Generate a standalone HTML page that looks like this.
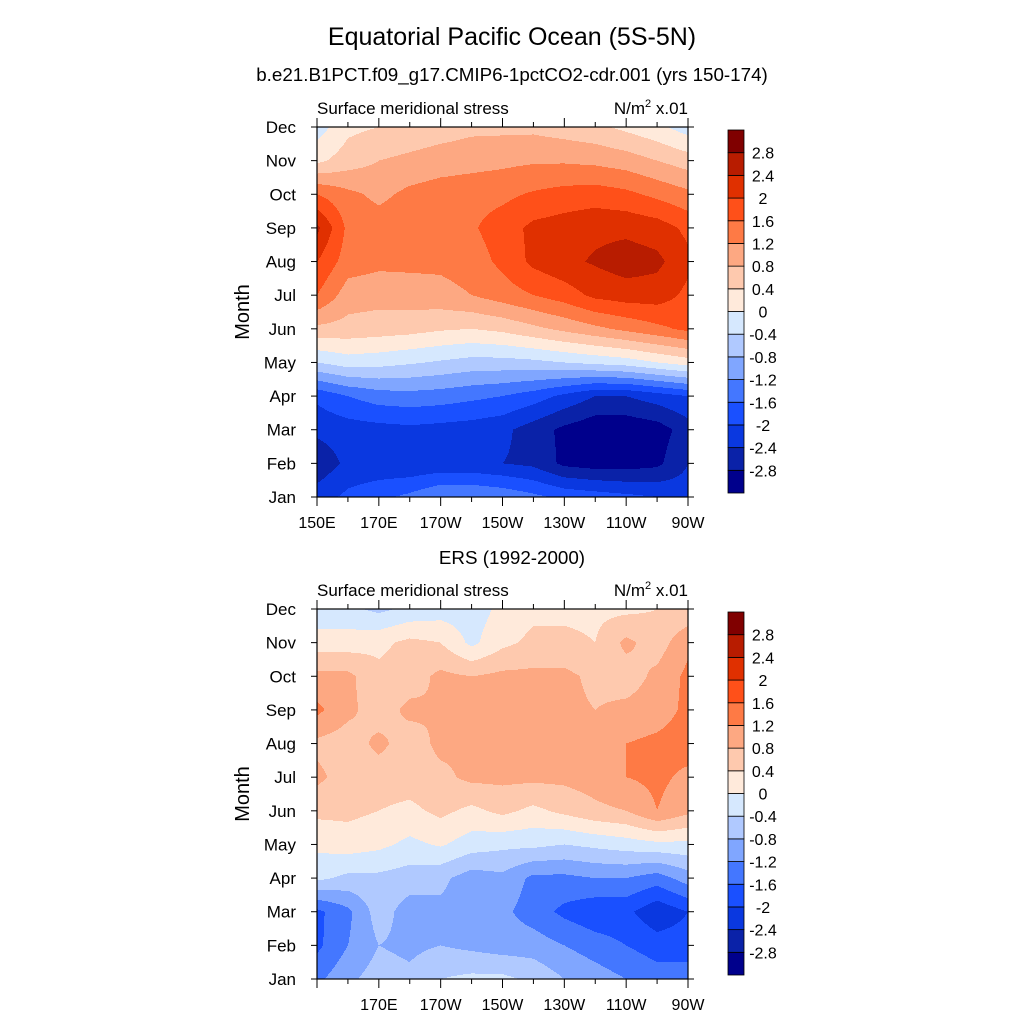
<!DOCTYPE html>
<html><head><meta charset="utf-8">
<style>
body{margin:0;background:#fff;}
svg{display:block;font-family:"Liberation Sans",sans-serif;}
</style></head>
<body>
<svg id="chart" width="1024" height="1024" viewBox="0 0 1024 1024">
<text x="512" y="45" font-size="25" text-anchor="middle">Equatorial Pacific Ocean (5S-5N)</text>
<text x="512" y="81" font-size="18.8" text-anchor="middle">b.e21.B1PCT.f09_g17.CMIP6-1pctCO2-cdr.001 (yrs 150-174)</text>
<text x="512" y="564" font-size="18.8" text-anchor="middle">ERS (1992-2000)</text>
<g id="plots"></g>
</svg>
<script>
const months = ["Jan","Feb","Mar","Apr","May","Jun","Jul","Aug","Sep","Oct","Nov","Dec"];
const lonLabels = ["150E","170E","170W","150W","130W","110W","90W"];
const cbLabels = ["2.8","2.4","2","1.6","1.2","0.8","0.4","0","-0.4","-0.8","-1.2","-1.6","-2","-2.4","-2.8"];
const levels = [-2.8,-2.4,-2,-1.6,-1.2,-0.8,-0.4,0,0.4,0.8,1.2,1.6,2,2.4,2.8];
const palette = ["#00008c","#0a22a8","#0a38e0","#1a50ff","#4477ff","#80a6ff","#b0c9ff","#d6e8fe","#ffeadb","#fec9ae","#fda882","#fe7a45","#ff5019","#e03000","#b81c00","#800000"];
const modelJan=[-2.2,-1.9,-1.7,-1.5,-1.2,-1.2,-1.3,-1.5,-1.7,-1.8,-1.9,-2.0,-2.2];
const modelFeb=[-2.7,-2.3,-2.3,-2.35,-2.3,-2.3,-2.4,-2.5,-2.9,-3.0,-3.0,-2.9,-2.4];
const modelMar=[-2.3,-2.2,-2.15,-2.1,-2.15,-2.2,-2.3,-2.6,-2.9,-3.1,-3.1,-3.0,-2.6];
const modelApr=[-1.9,-1.6,-1.4,-1.35,-1.4,-1.5,-1.6,-1.8,-2.1,-2.4,-2.4,-2.2,-2.0];
const modelMay=[-0.4,-0.2,-0.25,-0.35,-0.45,-0.55,-0.55,-0.5,-0.4,-0.3,-0.2,0.0,0.2];
const modelJun=[0.7,0.65,0.6,0.55,0.45,0.4,0.5,0.7,0.9,1.1,1.3,1.5,1.7];
const modelJul=[1.6,1.0,0.95,1.0,1.05,1.2,1.4,1.6,1.8,2.1,2.2,2.2,1.9];
const modelAug=[2.0,1.4,1.3,1.3,1.3,1.4,1.7,2.1,2.3,2.45,2.6,2.5,2.1];
const modelSep=[2.5,1.5,1.4,1.45,1.5,1.55,1.8,2.1,2.2,2.3,2.3,2.2,1.9];
const modelOct=[1.6,1.3,1.1,1.3,1.4,1.45,1.5,1.65,1.75,1.8,1.7,1.5,1.3];
const modelNov=[0.3,0.6,0.8,0.9,1.0,1.05,1.1,1.15,1.15,1.1,1.0,0.8,0.6];
const modelDec=[-0.2,0.3,0.4,0.5,0.6,0.7,0.7,0.7,0.6,0.5,0.3,0.1,-0.2];
const obsJan=[-1.3,-0.9,-0.6,-0.7,-0.4,-0.3,-0.3,-0.5,-0.8,-1.0,-1.2,-1.4,-1.4];
const obsFeb=[-1.7,-1.2,-0.8,-0.9,-0.8,-0.9,-1.0,-1.0,-1.2,-1.4,-1.6,-1.8,-1.8];
const obsMar=[-1.7,-1.3,-0.6,-1.0,-0.9,-1.0,-1.1,-1.4,-1.7,-1.9,-1.9,-2.3,-2.0];
const obsApr=[-0.3,-0.5,-0.5,-0.6,-0.7,-1.0,-0.9,-1.3,-1.3,-1.2,-1.2,-1.4,-1.0];
const obsMay=[0.1,0.2,0.1,-0.1,0.05,-0.2,-0.3,-0.3,-0.4,-0.3,-0.2,-0.1,-0.1];
const obsJun=[0.5,0.5,0.4,0.3,0.5,0.3,0.5,0.3,0.5,0.7,0.8,1.2,0.9];
const obsJul=[0.9,0.6,0.6,0.6,0.7,0.9,0.9,0.9,0.9,1.0,1.2,1.3,1.1];
const obsAug=[0.7,0.6,0.9,0.6,0.9,0.85,1.0,1.0,0.95,1.0,1.2,1.3,1.4];
const obsSep=[1.3,0.9,0.6,0.9,0.8,0.9,1.0,0.9,0.9,0.8,0.9,1.0,1.3];
const obsOct=[0.9,0.9,0.5,0.6,0.9,0.8,0.9,0.9,0.9,0.7,0.6,0.9,1.3];
const obsNov=[0.2,0.2,0.3,0.5,0.4,-0.1,0.3,0.5,0.5,0.4,0.9,0.6,1.1];
const obsDec=[-0.3,-0.3,-0.5,-0.3,-0.2,-0.2,0.1,0.3,0.3,0.3,0.3,0.4,0.5];
const modelData=[modelJan,modelFeb,modelMar,modelApr,modelMay,modelJun,modelJul,modelAug,modelSep,modelOct,modelNov,modelDec];
const obsData=[obsJan,obsFeb,obsMar,obsApr,obsMay,obsJun,obsJul,obsAug,obsSep,obsOct,obsNov,obsDec];

const NS="http://www.w3.org/2000/svg";
const root=document.getElementById('plots');
function mk(tag,attrs,parent){const e=document.createElementNS(NS,tag);for(const k in attrs)e.setAttribute(k,attrs[k]);(parent||root).appendChild(e);return e;}
function levelIndex(v){let i=0;while(i<levels.length&&v>=levels[i])i++;return i;}

function drawPlot(top,data,prefix,showFirstLon){
  const L=317,R=688,T=top,B=top+370;
  const W=R-L,H=B-T;
  const nc=data[0].length, nr=data.length;
  const xs=lon=>L+lon/(nc-1)*W;
  const ys=m=>B-m/(nr-1)*H;
  const g=mk('g',{});
  
  
  function val(px,py){
    const fi=(px-L)/W*(nc-1), fj=(B-py)/H*(nr-1);
    const i=Math.min(nc-2,Math.max(0,Math.floor(fi))), j=Math.min(nr-2,Math.max(0,Math.floor(fj)));
    const u=fi-i,v=fj-j;
    return (1-u)*(1-v)*data[j][i]+u*(1-v)*data[j][i+1]+(1-u)*v*data[j+1][i]+u*v*data[j+1][i+1];
  }
  for(let y=T;y<B;y++){
    let start=L,cur=levelIndex(val(L+0.5,y+0.5));
    for(let x=L+1;x<=R;x++){
      const c=x<R?levelIndex(val(x+0.5,y+0.5)):-1;
      if(c!==cur){
        mk('rect',{x:start,y:y,width:x-start,height:1.05,fill:palette[cur]},g);
        start=x;cur=c;
      }
    }
  }
  const fr=mk('rect',{x:L,y:T,width:W,height:H,fill:'none',stroke:'#000','stroke-width':1.2});
  
  
  for(let m=0;m<nr;m++){
    const y=ys(m);
    mk('line',{x1:L-6,y1:y,x2:L,y2:y,stroke:'#000','stroke-width':1});
    mk('line',{x1:R,y1:y,x2:R+6,y2:y,stroke:'#000','stroke-width':1});
    const t=mk('text',{x:296,y:y+6,'font-size':17,'text-anchor':'end'});
    t.textContent=months[m];
    
    
  }
  for(let k=0;k<nc;k++){
    const x=xs(k),major=k%2===0,len=major?9:5;
    mk('line',{x1:x,y1:B,x2:x,y2:B+len,stroke:'#000','stroke-width':1});
    mk('line',{x1:x,y1:T-len,x2:x,y2:T,stroke:'#000','stroke-width':1});
    if(major&&(k>0||showFirstLon)){
      const t=mk('text',{x:x,y:B+31,'font-size':16,'text-anchor':'middle'});
      t.textContent=lonLabels[k/2];
      
      
    }
  }
  const yt=mk('text',{x:0,y:0,'font-size':20,'text-anchor':'middle',transform:`translate(249,${(T+B)/2}) rotate(-90)`});
  yt.textContent='Month';
  
  
  const lt=mk('text',{x:L,y:T-13,'font-size':17});
  lt.textContent='Surface meridional stress';
  
  
  const ut=mk('text',{x:R,y:T-13,'font-size':17,'text-anchor':'end'});
  ut.innerHTML='N/m<tspan dy="-7" font-size="11">2</tspan><tspan dy="7"> x.01</tspan>';
  
  
  const cbT=T+3,cbH=363,bh=cbH/palette.length;
  const cb=mk('g',{});
  
  
  for(let i=0;i<palette.length;i++){
    mk('rect',{x:728,y:cbT+cbH-(i+1)*bh,width:16,height:bh,fill:palette[i],stroke:'#000','stroke-width':0.8},cb);
  }
  for(let i=0;i<cbLabels.length;i++){
    const t=mk('text',{x:763,y:cbT+(i+1)*bh+6,'font-size':16,'text-anchor':'middle'},cb);
    t.textContent=cbLabels[i];
    
    
  }
}
drawPlot(127,modelData,'model',true);
drawPlot(609,obsData,'ers',false);
</script>
</body></html>
